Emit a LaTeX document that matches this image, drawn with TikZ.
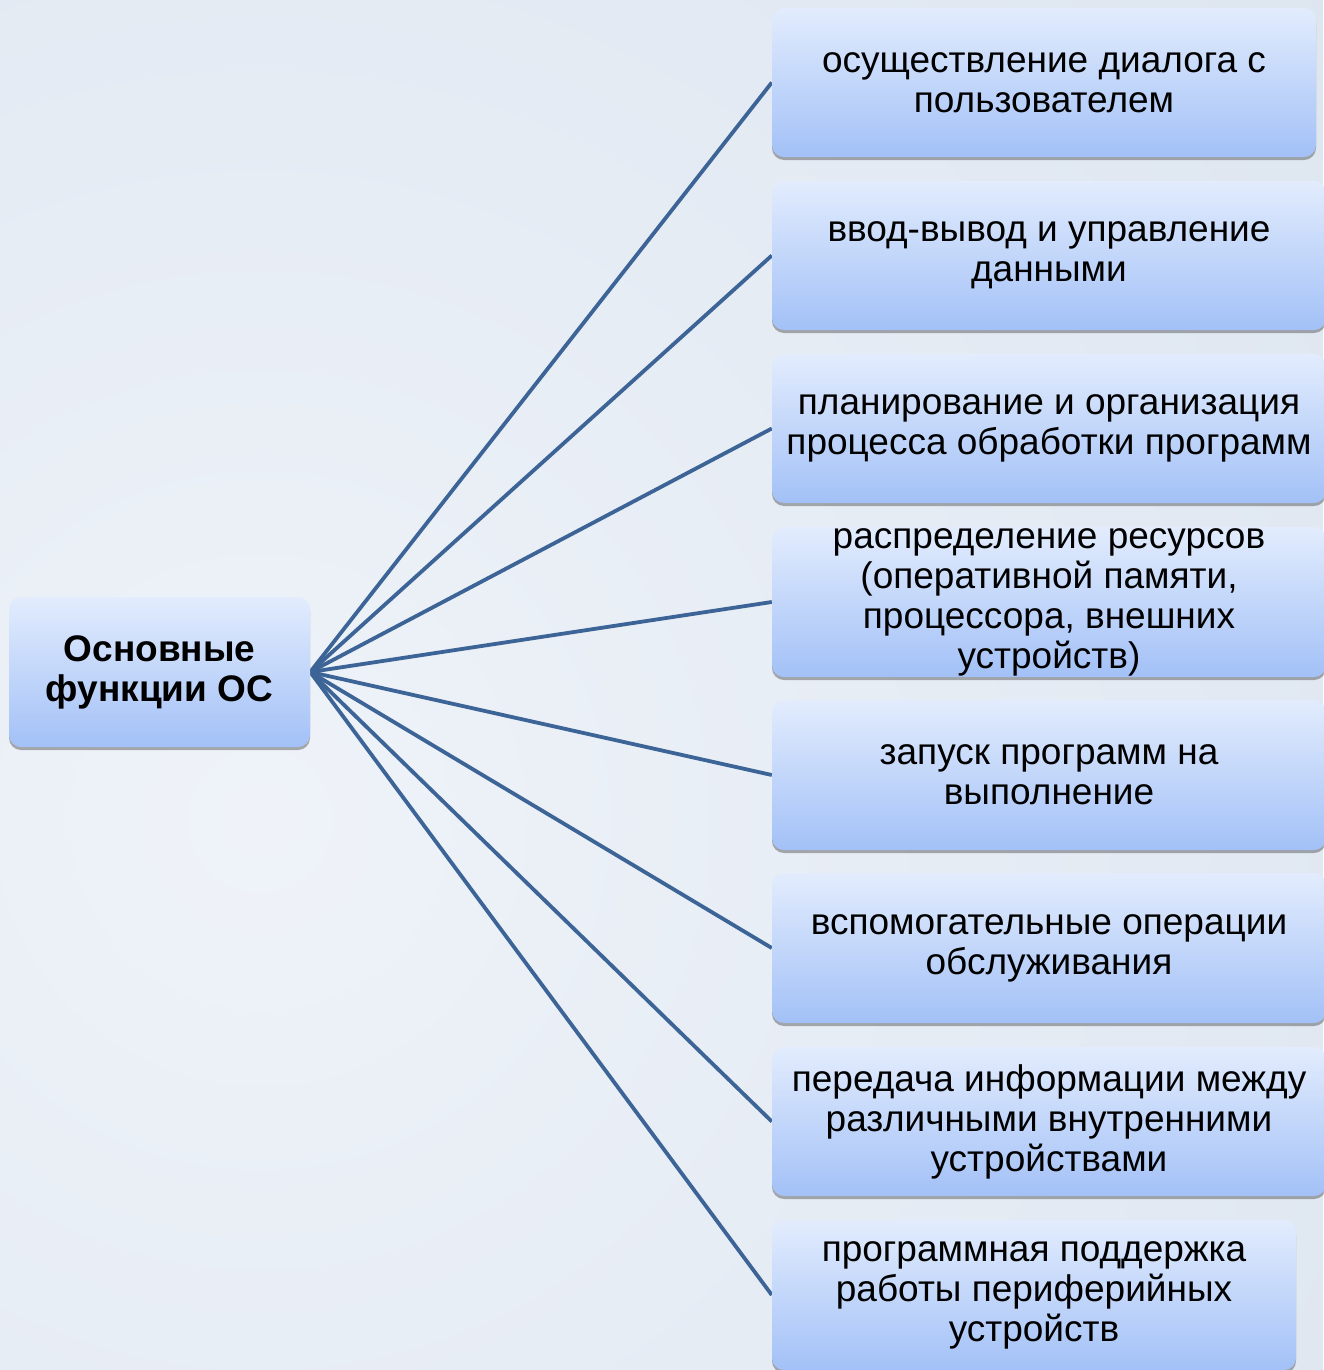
\documentclass[tikz,border=0pt]{standalone}
\usepackage{fontspec}
\setmainfont{Liberation Sans}
\usetikzlibrary{shadows}
\definecolor{boxtop}{HTML}{E2ECFD}
\definecolor{boxbot}{HTML}{A3C1F7}
\definecolor{linkc}{HTML}{3D6496}
\definecolor{bgin}{HTML}{EFF3F9}
\definecolor{bgout}{HTML}{D6E0EC}
\pgfdeclarelayer{bglayer}
\pgfdeclarelayer{linklayer}
\pgfsetlayers{bglayer,linklayer,main}
\tikzset{
  fbox/.style={rectangle, rounded corners=12pt, inner sep=0pt,
    top color=boxtop, bottom color=boxbot, draw=none,
    drop shadow={shadow xshift=0pt, shadow yshift=-3pt, opacity=0.45, fill=black!70},
    align=center, font=\fontsize{37}{40}\selectfont, text=black},
  link/.style={draw=linkc, line width=3.8pt}
}
\begin{document}
\begin{tikzpicture}[x=1pt,y=-1pt]
\useasboundingbox (0,0) rectangle (1323,1370);
\begin{pgfonlayer}{bglayer}
  \fill[bgout] (0,0) rectangle (1323,1370);
  \begin{scope}
    \clip (0,0) rectangle (1323,1370);
    \shade[inner color=bgin, outer color=bgout] (260,820) circle[radius=1900];
  \end{scope}
\end{pgfonlayer}
\node[fbox, minimum width=301pt, minimum height=150pt, font=\fontsize{37}{40}\selectfont\bfseries] (main) at (159.5,672) {Основные\\функции ОС};
\node[fbox, minimum width=544pt, minimum height=149pt] (b1) at (1044,82.5) {осуществление диалога с\\пользователем};
\node[fbox, minimum width=554pt, minimum height=149pt] (b2) at (1049,255.5) {ввод-вывод и управление\\данными};
\node[fbox, minimum width=554pt, minimum height=149pt] (b3) at (1049,428.5) {планирование и организация\\процесса обработки программ};
\node[fbox, minimum width=554pt, minimum height=150pt] (b4) at (1049,602) {распределение ресурсов\\(оперативной памяти,\\процессора, внешних\\устройств)};
\node[fbox, minimum width=554pt, minimum height=150pt] (b5) at (1049,775) {запуск программ на\\выполнение};
\node[fbox, minimum width=554pt, minimum height=150pt] (b6) at (1049,948) {вспомогательные операции\\обслуживания};
\node[fbox, minimum width=554pt, minimum height=149pt] (b7) at (1049,1121.5) {передача информации между\\различными внутренними\\устройствами};
\node[fbox, minimum width=524pt, minimum height=150pt] (b8) at (1034,1295) {программная поддержка\\работы периферийных\\устройств};
\begin{pgfonlayer}{linklayer}
  \foreach \b in {b1,b2,b3,b4,b5,b6,b7,b8}
    \draw[link] (main.east) -- (\b.west);
\end{pgfonlayer}
\end{tikzpicture}
\end{document}
